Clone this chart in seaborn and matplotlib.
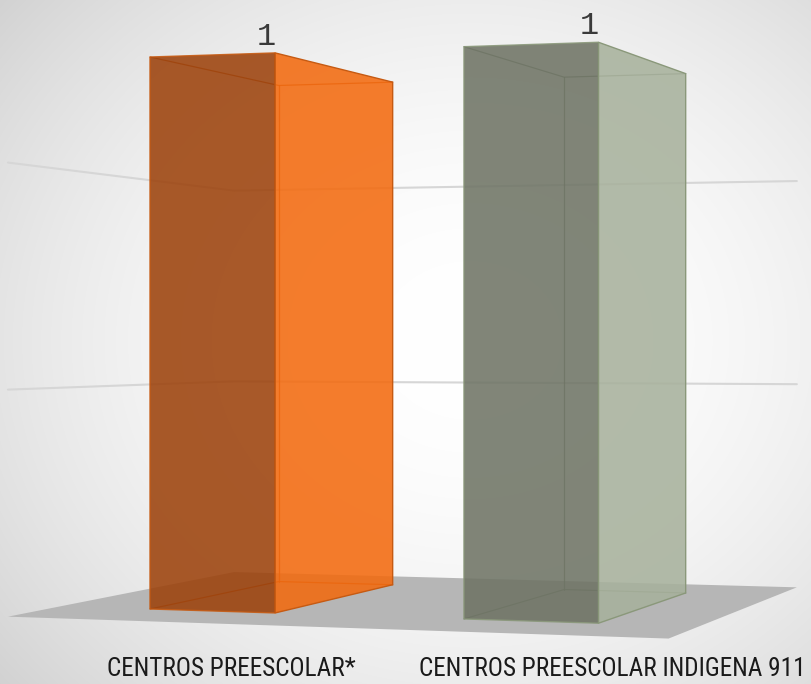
import numpy as np
import pandas as pd
import matplotlib
matplotlib.use("Agg")
import matplotlib.pyplot as plt
import seaborn as sns
from matplotlib import font_manager as fm
from matplotlib.transforms import Transform
from matplotlib.patches import Polygon, Rectangle

# ---------------- data ----------------
CATEGORIES = ["CENTROS PREESCOLAR*", "CENTROS PREESCOLAR INDIGENA 911"]
VALUES = [1, 1]
VALUE_LABELS = ["1", "1"]
GRID_VALUES = [0.4, 0.8]

# ---------------- style ----------------
FRONT_COLORS = ["#9C410A", "#6E7364"]
SIDE_COLORS = ["#F3690D", "#A7B19C"]
EDGE_COLORS = ["#C65A12", "#8A987A"]
HIDDEN_EDGE = ["#B4500E", "#6F7A66"]
FACE_ALPHA = 0.87
FLOOR_COLOR = "#B6B6B6"
GRID_COLOR = "#D6D6D6"

W, H, DPI = 811, 684, 100

# ---------------- 3-D view (2-point perspective) ----------------
F = 2990.0             # focal length (px)
CX, CY = 405.5, 338.0  # principal point / horizon
ANG = np.deg2rad(18.76)
COS, SIN = np.cos(ANG), np.sin(ANG)
CAM = np.array([-255.5, -271.0, 2990.0])

SLOT = 329.4           # world width of one category slot
X_C0 = 67.0            # world X of first category centre
UNIT = 552.0           # world height of value 1
BAR_WIDTH = 0.407      # fraction of slot
BAR_DEPTH = 356.0
FLOOR_Z = (-120.0, 465.0)


def project(X, Y, Z):
    X, Y, Z = np.broadcast_arrays(np.asarray(X, float), np.asarray(Y, float), np.asarray(Z, float))
    a = COS * X + SIN * Z
    b = -SIN * X + COS * Z
    xc = CAM[0] + a
    yc = CAM[1] + Y
    zc = CAM[2] + b
    return CX + F * xc / zc, CY - F * yc / zc


def cat_to_world(xcat):
    return X_C0 + SLOT * np.asarray(xcat, float)


class FrontPlane(Transform):
    """(category coord, value) on the plane Z = plane_z -> screen pixels."""
    input_dims = 2
    output_dims = 2
    is_separable = False
    has_inverse = False

    def __init__(self, plane_z):
        super().__init__()
        self._plane_z = plane_z

    def transform_non_affine(self, values):
        v = np.asarray(values, float).reshape(-1, 2)
        px, py = project(cat_to_world(v[:, 0]), UNIT * v[:, 1], self._plane_z)
        return np.column_stack([px, py])


def condensed_font():
    cands = [("Roboto Condensed", "normal"), ("Liberation Sans Narrow", "normal"),
             ("Arial Narrow", "normal"), ("DejaVu Sans Condensed", "normal"),
             ("DejaVu Sans", "condensed"), ("Noto Sans", "condensed"),
             ("Open Sans", "condensed"), ("Roboto", "condensed")]
    for fam, st in cands:
        try:
            path = fm.findfont(fm.FontProperties(family=fam, stretch=st),
                               fallback_to_default=False)
        except Exception:
            continue
        low = path.lower()
        if "condensed" in low or "narrow" in low:
            return fm.FontProperties(fname=path)
    return fm.FontProperties(family="Roboto")


# ---------------- figure ----------------
sns.set_theme(style="white")
fig = plt.figure(figsize=(W / DPI, H / DPI), dpi=DPI)
ax = fig.add_axes([0, 0, 1, 1])

df = pd.DataFrame({"categoria": CATEGORIES, "valor": VALUES})
sns.barplot(data=df, x="categoria", y="valor", hue="categoria",
            palette=FRONT_COLORS, width=BAR_WIDTH, errorbar=None,
            alpha=FACE_ALPHA, linewidth=1.0, legend=False, ax=ax, zorder=6)
bars = sorted([p for p in ax.patches if isinstance(p, Rectangle)], key=lambda p: p.get_x())

# screen (pixel) frame
ax.set_xlim(0, W)
ax.set_ylim(H, 0)
ax.set_axis_off()

# background radial gradient
yy, xx = np.mgrid[0:H, 0:W]
r2 = ((xx - 470) / 600.0) ** 2 + ((yy - 340) / 520.0) ** 2
bg = np.clip(255 - 43 * r2, 200, 255) / 255.0
ax.imshow(np.dstack([bg, bg, bg]), extent=[0, W, H, 0], aspect="auto", zorder=0)
ax.set_xlim(0, W)
ax.set_ylim(H, 0)

n = len(CATEGORIES)
x_left = cat_to_world(-0.5)
x_right = cat_to_world(n - 0.5)

# floor
fx, fy = project([x_left, x_left, x_right, x_right], 0,
                 [FLOOR_Z[0], FLOOR_Z[1], FLOOR_Z[1], FLOOR_Z[0]])
ax.add_patch(Polygon(np.column_stack([fx, fy]), closed=True, facecolor=FLOOR_COLOR,
                     edgecolor="none", zorder=2))

# gridlines on the two back walls
for g in GRID_VALUES:
    gx, gy = project([x_left, x_left, x_right], UNIT * g,
                     [FLOOR_Z[0], FLOOR_Z[1], FLOOR_Z[1]])
    ax.plot(gx, gy, color=GRID_COLOR, lw=1.5, zorder=1, solid_capstyle="round")

# bars: front face = seaborn patch in perspective, plus side face and hidden edges
for i, p in enumerate(bars):
    p.set_transform(FrontPlane(0.0) + ax.transData)
    p.set_edgecolor(EDGE_COLORS[i])
    p.set_facecolor(matplotlib.colors.to_rgba(FRONT_COLORS[i], FACE_ALPHA))
    p.set_zorder(6)

    x0 = cat_to_world(p.get_x())
    x1 = cat_to_world(p.get_x() + p.get_width())
    top = UNIT * p.get_height()

    # hidden (back) edges seen through the transparent box
    hx, hy = project([x0, x0, x1], top, [0, BAR_DEPTH, BAR_DEPTH])
    ax.plot(hx, hy, color=HIDDEN_EDGE[i], lw=0.9, alpha=0.8, zorder=3)
    hx, hy = project([x0, x0, x1], 0, [0, BAR_DEPTH, BAR_DEPTH])
    ax.plot(hx, hy, color=HIDDEN_EDGE[i], lw=0.9, alpha=0.8, zorder=3)
    hx, hy = project([x0, x0], [0, top], BAR_DEPTH)
    ax.plot(hx, hy, color=HIDDEN_EDGE[i], lw=0.9, alpha=0.8, zorder=3)

    # right side face
    sx, sy = project(x1, [0, top, top, 0], [0, 0, BAR_DEPTH, BAR_DEPTH])
    ax.add_patch(Polygon(np.column_stack([sx, sy]), closed=True,
                         facecolor=matplotlib.colors.to_rgba(SIDE_COLORS[i], FACE_ALPHA),
                         edgecolor=EDGE_COLORS[i], lw=1.0, zorder=5))

    # value label above the near top corner
    lx, ly = project(x1, top, 0.0)
    ax.text(float(lx) - 9, float(ly) - 8, VALUE_LABELS[i], ha="center", va="baseline",
            fontsize=23, color="#3A3A3A", family=["Liberation Mono", "DejaVu Sans Mono"],
            zorder=8)

# category labels
LABEL_X = [231.5, 612.0]
LABEL_BASELINE = 676.0
fp = condensed_font()
texts = []
for lab, lx in zip(CATEGORIES, LABEL_X):
    t = ax.text(lx, LABEL_BASELINE, lab, ha="center", va="baseline",
                fontproperties=fp.copy(), color="#1A1A1A", zorder=8)
    t.set_fontsize(16)
    texts.append(t)
fig.canvas.draw()
r = fig.canvas.get_renderer()
wlab = texts[1].get_window_extent(r).width
scale = 389.0 / wlab
for t in texts:
    t.set_fontsize(16 * scale)

fig.savefig("out.png", dpi=DPI)
